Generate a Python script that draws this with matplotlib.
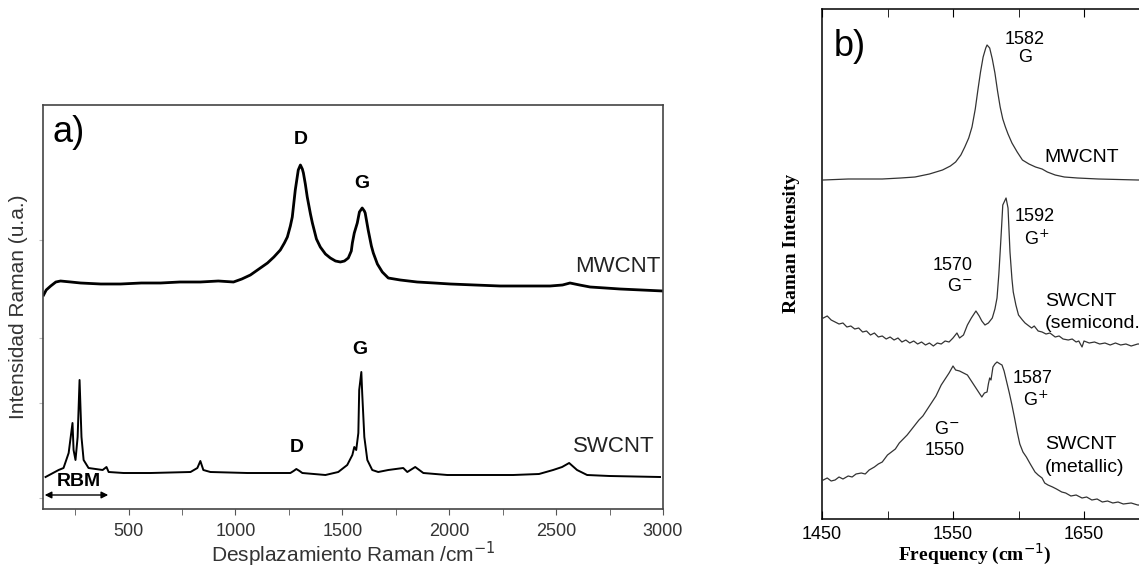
import numpy as np
import matplotlib
matplotlib.use("Agg")
import matplotlib.pyplot as plt
from matplotlib.ticker import MultipleLocator

plt.rcParams['font.family'] = ['Liberation Sans', 'DejaVu Sans']

# ---- panel a: Raman spectra, full range ----
mw_a_x = [103, 115, 136, 160, 182, 230, 276, 370, 463, 560, 650, 740, 836, 920, 991,
          1030, 1070, 1110, 1150, 1180, 1210, 1229, 1243, 1257, 1266, 1280, 1294, 1304,
          1313, 1318, 1327, 1336, 1351, 1360, 1379, 1397, 1421, 1444, 1468, 1491, 1510,
          1528, 1542, 1547, 1556, 1570, 1580, 1593, 1603, 1607, 1621, 1636, 1645, 1664,
          1687, 1715, 1771, 1850, 1930, 2005, 2120, 2238, 2350, 2472, 2530, 2565, 2610,
          2659, 2730, 2799, 2900, 3000]
mw_a_y = [214, 219, 223, 227, 228, 227, 226, 225, 225, 226, 226, 227, 227, 228, 227,
          230, 234, 240, 246, 252, 259, 266, 272, 283, 292, 319, 339, 344,
          340, 336, 325, 312, 295, 286, 270, 262, 255, 251, 248, 247, 248,
          251, 258, 266, 276, 286, 297, 301, 298, 296, 279, 263, 256, 245,
          237, 231, 229, 227, 226, 225, 224, 223, 223, 223, 224, 226, 224,
          222, 221, 220, 219, 218]

sw_a_x = [112, 173, 196, 220, 238, 243, 252, 262, 271, 280, 290, 313, 379, 397, 407,
          477, 603, 790, 822, 836, 850, 883, 1056, 1257, 1272, 1285, 1300, 1313, 1421,
          1481, 1523, 1547, 1556, 1565, 1575, 1579, 1589, 1593, 1603, 1617, 1640, 1668,
          1715, 1785, 1804, 1841, 1879, 1991, 2299, 2420, 2486, 2528, 2561, 2598, 2645,
          2750, 2986]
sw_a_y = [32, 39, 41, 56, 86, 59, 49, 72, 129, 72, 49, 41, 39, 42, 37,
          36, 36, 37, 41, 48, 39, 37, 36, 36, 38, 40, 38, 36, 34,
          37, 44, 54, 62, 59, 76, 119, 137, 116, 72, 49, 39, 37,
          39, 41, 37, 42, 36, 34, 34, 35, 39, 42, 46, 39, 34,
          33, 32]

# ---- panel b: G band region ----
mw_b_x = [1451, 1470, 1496, 1510, 1521, 1532, 1542, 1548, 1552, 1556, 1559, 1562, 1564.5,
          1567, 1569, 1571, 1573, 1575, 1576, 1578, 1580, 1582, 1584, 1586, 1588, 1590,
          1592, 1595, 1599, 1603, 1608, 1613, 1618, 1622, 1628, 1635, 1645, 1661, 1691, 1750]
mw_b_y = [339, 340, 340, 341, 342, 345, 349, 353, 357, 364, 372, 381, 392,
          410, 429, 447, 462, 471, 474, 471, 460, 446, 428, 412, 400, 392,
          385, 376, 367, 359, 355, 352, 350, 347, 344, 342, 341, 340, 339, 339]

semi_x = [1451, 1454, 1457, 1460, 1463, 1466, 1469, 1472, 1475, 1478, 1481, 1484, 1487,
          1490, 1493, 1496, 1499, 1502, 1505, 1508, 1511, 1514, 1517, 1520, 1523, 1526,
          1529, 1532, 1535, 1538, 1541, 1544, 1547, 1550, 1553, 1555, 1558, 1561, 1564,
          1567.5, 1570, 1572, 1574.4, 1577, 1580, 1582, 1583.6, 1585, 1586, 1587, 1588,
          1590.5, 1592, 1593.5, 1595, 1596, 1598, 1600, 1603, 1605, 1607, 1610, 1612,
          1615, 1618, 1621, 1624, 1628, 1631, 1634, 1638, 1641, 1644, 1646, 1648.5, 1650,
          1654, 1658, 1662, 1666, 1670, 1674, 1678, 1682, 1686, 1691, 1700, 1750]
semi_y = [201, 203, 199, 197, 195, 196, 192, 193, 190, 191, 187, 188, 184,
          186, 182, 183, 180, 182, 179, 181, 177, 179, 176, 178, 175, 177,
          174, 176, 173, 176, 175, 178, 177, 181, 186, 181, 184, 194, 201,
          208, 203, 198, 194, 196, 201, 210, 221, 245, 267, 290, 314,
          321, 311, 267, 240, 227, 214, 204, 199, 196, 194, 191, 193,
          188, 187, 185, 186, 182, 183, 180, 179, 180, 177, 178, 172, 178,
          176, 177, 175, 176, 174, 176, 174, 175, 173, 175, 175, 175]

met_x = [1451, 1454, 1457, 1460, 1463, 1466, 1470, 1473, 1476, 1480, 1483, 1486, 1490,
         1493, 1496, 1500, 1503, 1506, 1509, 1512, 1515, 1518, 1521, 1524, 1527, 1531,
         1534, 1537, 1541, 1544, 1547, 1550, 1552, 1555, 1558, 1561, 1564.5, 1568, 1570,
         1572, 1574, 1576, 1577, 1578, 1579, 1580.5, 1582, 1583.6, 1586, 1587.4, 1589,
         1591, 1593, 1595, 1597, 1599, 1601, 1603.4, 1606, 1609, 1612.6, 1615, 1618,
         1620, 1622.5, 1626, 1629, 1633, 1636, 1640, 1644, 1648.5, 1652, 1656, 1660,
         1664, 1668, 1672, 1676, 1680, 1686, 1691, 1750]
met_y = [39, 41, 38, 39, 42, 40, 43, 42, 45, 46, 45, 49, 52,
         55, 57, 64, 67, 70, 76, 80, 84, 89, 94, 99, 103, 111,
         117, 123, 134, 140, 146, 153, 149, 148, 146, 144, 137, 130, 126,
         122, 126, 127, 135, 141, 139, 152, 155, 157, 155, 154, 148,
         137, 126, 114, 101, 87, 75, 67, 62, 55, 47, 44, 41,
         36, 34, 32, 30, 27, 26, 23, 24, 21, 22, 19, 20,
         17, 18, 16, 17, 15, 16, 14, 12]

a_ticks = [500, 1000, 1500, 2000, 2500, 3000]
b_ticks = [1450, 1550, 1650]

fig = plt.figure(figsize=(11.39, 5.69), dpi=100)

# panel a
ax1 = fig.add_axes([43 / 1139, 1 - 509 / 569, 620 / 1139, 404 / 569])
ax1.plot(mw_a_x, mw_a_y, color='black', lw=2.0)
ax1.plot(sw_a_x, sw_a_y, color='black', lw=1.4)
ax1.set_xlim(100, 3000)
ax1.set_ylim(0, 404)
ax1.set_xticks(a_ticks)
ax1.xaxis.set_minor_locator(MultipleLocator(250))
ax1.set_yticks([11, 106, 171, 269])
ax1.tick_params(axis='x', which='both', direction='out', length=4, color='#555555',
                labelsize=13, labelcolor='#333333', pad=6)
ax1.tick_params(axis='y', direction='out', length=3, color='#bbbbbb', labelleft=False)
for s in ax1.spines.values():
    s.set_color('#444444')
    s.set_linewidth(1.2)
ax1.set_xlabel('Desplazamiento Raman /cm$^{-1}$', fontsize=15, color='#333333', labelpad=0)
ax1.set_ylabel('Intensidad Raman (u.a.)', fontsize=15, color='#333333', labelpad=8)

ax1.text(0.016, 0.975, 'a)', transform=ax1.transAxes, fontsize=26, va='top', ha='left')
ax1.text(1304, 369, 'D', fontsize=14, fontweight='bold', ha='center', va='center')
ax1.text(1593, 326, 'G', fontsize=14, fontweight='bold', ha='center', va='center')
ax1.text(2986, 243, 'MWCNT', fontsize=16, ha='right', va='center', color='#222222')
ax1.text(2960, 62, 'SWCNT', fontsize=16, ha='right', va='center', color='#222222')
ax1.text(1285, 62, 'D', fontsize=14, fontweight='bold', ha='center', va='center')
ax1.text(1584, 159, 'G', fontsize=14, fontweight='bold', ha='center', va='center')
ax1.text(266, 27, 'RBM', fontsize=14, fontweight='bold', ha='center', va='center')
ax1.annotate('', xy=(108, 14), xytext=(405, 14),
             arrowprops=dict(arrowstyle='<|-|>', color='black', lw=1.0,
                             mutation_scale=10, shrinkA=0, shrinkB=0))

# panel b (right side cut off by the figure edge, as in the source)
ax2 = fig.add_axes([822 / 1139, 1 - 519 / 569, 393 / 1139, 510 / 569])
ax2.plot(mw_b_x, mw_b_y, color='#333333', lw=0.9)
ax2.plot(semi_x, semi_y, color='#333333', lw=0.9)
ax2.plot(met_x, met_y, color='#333333', lw=0.9)
ax2.set_xlim(1450, 1750)
ax2.set_ylim(0, 510)
ax2.set_xticks(b_ticks)
ax2.xaxis.set_minor_locator(MultipleLocator(50))
ax2.set_yticks([])
ax2.tick_params(axis='x', which='both', direction='in', length=6, top=True,
                labelsize=13, pad=5)
for s in ax2.spines.values():
    s.set_linewidth(1.1)

serif = ['Liberation Serif', 'DejaVu Serif']
ax2.set_xlabel('Frequency (cm$^{-1}$)', fontsize=14, fontweight='bold', family=serif)
ax2.xaxis.set_label_coords(0.39, -0.046)
ax2.set_ylabel('Raman Intensity', fontsize=14, fontweight='bold', family=serif)
ax2.yaxis.set_label_coords(-0.056, 0.54)

ax2.text(0.03, 0.96, 'b)', transform=ax2.transAxes, fontsize=26, va='top', ha='left')
ax2.text(1605, 488, '1582\nG', fontsize=13, ha='center', va='top', linespacing=1.1)
ax2.text(1620, 362, 'MWCNT', fontsize=14, ha='left', va='center')
ax2.text(1612.5, 311, '1592', fontsize=13, ha='center', va='top')
ax2.text(1614, 290, 'G$^{+}$', fontsize=13, ha='center', va='top')
ax2.text(1550, 262, '1570', fontsize=13, ha='center', va='top')
ax2.text(1555, 241, 'G$^{-}$', fontsize=13, ha='center', va='top')
ax2.text(1620, 226, 'SWCNT', fontsize=14, ha='left', va='top')
ax2.text(1620, 204, '(semicond.)', fontsize=14, ha='left', va='top')
ax2.text(1611, 149, '1587', fontsize=13, ha='center', va='top')
ax2.text(1613, 129, 'G$^{+}$', fontsize=13, ha='center', va='top')
ax2.text(1545, 98, 'G$^{-}$', fontsize=13, ha='center', va='top')
ax2.text(1544, 77, '1550', fontsize=13, ha='center', va='top')
ax2.text(1620, 83, 'SWCNT', fontsize=14, ha='left', va='top')
ax2.text(1620, 60, '(metallic)', fontsize=14, ha='left', va='top')

fig.savefig('out.png', dpi=100)
